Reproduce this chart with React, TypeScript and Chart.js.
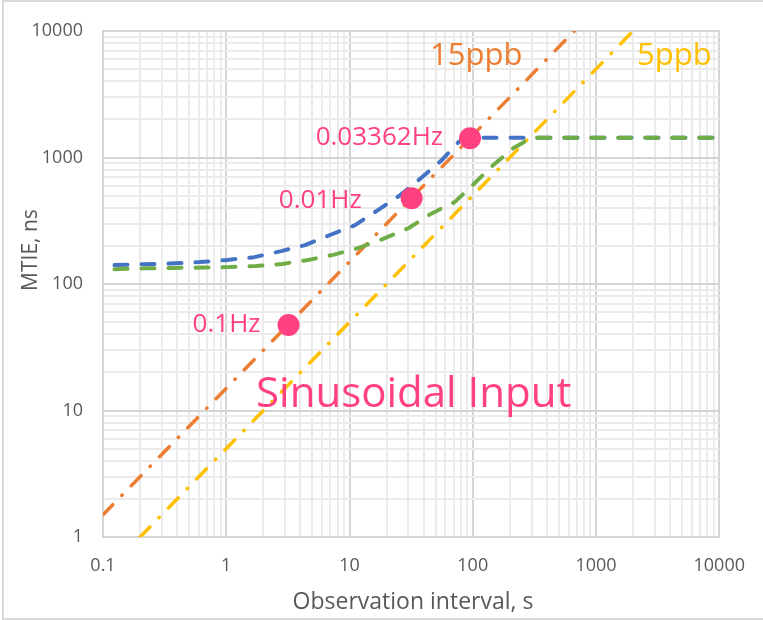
import React, { useEffect, useRef } from 'react';
import { Chart, registerables } from 'chart.js';

Chart.register(...registerables);

// ---- data ----
const X_TICK_LABELS = ['0.1', '1', '10', '100', '1000', '10000'];
const Y_TICK_LABELS = ['1', '10', '100', '1000', '10000'];

const BLUE_X = [0.124, 0.198, 0.346, 0.606, 1.02, 1.69, 2.79, 4.36, 6.96, 11.1, 17.0, 25.2, 37.2, 55.1, 76.9, 96.2, 10000];
const BLUE_Y = [141, 143, 145, 149, 155, 163, 182, 203, 244, 292, 384, 496, 676, 938, 1327, 1430, 1430];

const GREEN_X = [0.124, 0.218, 0.38, 0.665, 1.06, 1.75, 2.85, 4.62, 7.36, 11.9, 18.7, 30.3, 45.6, 71.3, 102, 147, 214, 299, 10000];
const GREEN_Y = [131, 133, 134, 135, 136, 139, 144, 155, 170, 193, 227, 277, 358, 444, 618, 873, 1189, 1430, 1430];

const ORANGE_X = [0.1, 667];
const ORANGE_Y = [1.5, 10000];

const YELLOW_X = [0.2, 2000];
const YELLOW_Y = [1, 10000];

const MARKER_X = [3.2, 31.9, 95];
const MARKER_Y = [47.4, 476, 1420];
const MARKER_LABELS = ['0.1Hz', '0.01Hz', '0.03362Hz'];

// ---- styles ----
const FONT = '"Open Sans", "Noto Sans", sans-serif';
const GRAY_TEXT = '#595959';
const MAJOR_GRID = '#d4d4d4';
const MINOR_GRID = '#ebebeb';
const BLUE = '#4472C4';
const GREEN = '#70AD47';
const ORANGE = '#ED7D31';
const YELLOW = '#FFC000';
const PINK = '#FF4081';

const LABEL_OFFSETS = [
  { dx: -28, dy: 7 },
  { dx: -50, dy: 10 },
  { dx: -27, dy: 7 },
];

const pts = (xs: number[], ys: number[]) => xs.map((x, i) => ({ x, y: ys[i] }));

const isMajor = (v: number) => {
  const l = Math.log10(v);
  return Math.abs(l - Math.round(l)) < 1e-9;
};

const buildTicks = (labels: string[]) => {
  const out: { value: number; major: boolean }[] = [];
  const decades = labels.map((s) => parseFloat(s));
  for (let i = 0; i < decades.length - 1; i++) {
    for (let m = 1; m <= 9; m++) {
      out.push({ value: Number((m * decades[i]).toPrecision(6)), major: m === 1 });
    }
  }
  out.push({ value: decades[decades.length - 1], major: true });
  return out;
};

const labelFor = (labels: string[]) => (v: any) => {
  const n = Number(v);
  if (!isMajor(n)) return '';
  const found = labels.find((s) => Math.abs(parseFloat(s) - n) / n < 1e-6);
  return found ?? '';
};

const textPlugin = {
  id: 'textPlugin',
  afterDraw(chart: any) {
    const { ctx } = chart;
    const xs = chart.scales.x;
    const ys = chart.scales.y;
    ctx.save();
    ctx.textBaseline = 'alphabetic';

    // marker labels
    ctx.fillStyle = PINK;
    ctx.font = `26px ${FONT}`;
    ctx.textAlign = 'right';
    MARKER_X.forEach((mx, i) => {
      const px = xs.getPixelForValue(mx);
      const py = ys.getPixelForValue(MARKER_Y[i]);
      ctx.fillText(MARKER_LABELS[i], px + LABEL_OFFSETS[i].dx, py + LABEL_OFFSETS[i].dy);
    });

    // series labels
    ctx.textAlign = 'left';
    ctx.font = `31px ${FONT}`;
    ctx.fillStyle = ORANGE;
    ctx.fillText('15ppb', 430, 65);
    ctx.fillStyle = YELLOW;
    ctx.fillText('5ppb', 637, 65);

    ctx.font = `42px ${FONT}`;
    ctx.fillStyle = PINK;
    ctx.fillText('Sinusoidal Input', 256, 407);

    // axis titles
    ctx.fillStyle = GRAY_TEXT;
    ctx.font = `23px ${FONT}`;
    ctx.textAlign = 'center';
    ctx.fillText('Observation interval, s', 413, 609);

    ctx.font = `21px ${FONT}`;
    ctx.translate(37, 250);
    ctx.rotate(-Math.PI / 2);
    ctx.fillText('MTIE, ns', 0, 0);
    ctx.restore();
  },
};

const gridColor = (ctx: any) => (ctx.tick && isMajor(ctx.tick.value) ? MAJOR_GRID : MINOR_GRID);

export default function App() {
  const ref = useRef<HTMLCanvasElement>(null);

  useEffect(() => {
    if (!ref.current) return;
    const lineBase = {
      showLine: true,
      pointRadius: 0,
      pointHoverRadius: 0,
      tension: 0,
      borderCapStyle: 'round' as const,
      borderJoinStyle: 'round' as const,
      fill: false,
    };
    const chart = new Chart(ref.current, {
      type: 'scatter',
      data: {
        datasets: [
          {
            ...lineBase,
            label: '15ppb',
            data: pts(ORANGE_X, ORANGE_Y),
            borderColor: ORANGE,
            borderWidth: 3.5,
            borderDash: [14, 13, 0.5, 13],
            order: 5,
          },
          {
            ...lineBase,
            label: '5ppb',
            data: pts(YELLOW_X, YELLOW_Y),
            borderColor: YELLOW,
            borderWidth: 3.5,
            borderDash: [14, 13, 0.5, 13],
            order: 4,
          },
          {
            ...lineBase,
            label: 'blue',
            data: pts(BLUE_X, BLUE_Y),
            borderColor: BLUE,
            borderWidth: 4,
            borderDash: [13, 14],
            order: 3,
          },
          {
            ...lineBase,
            label: 'green',
            data: pts(GREEN_X, GREEN_Y),
            borderColor: GREEN,
            borderWidth: 4,
            borderDash: [13, 14],
            order: 2,
          },
          {
            label: 'markers',
            data: pts(MARKER_X, MARKER_Y),
            showLine: false,
            pointRadius: 11,
            pointHoverRadius: 11,
            pointBackgroundColor: PINK,
            pointBorderWidth: 0,
            backgroundColor: PINK,
            borderColor: PINK,
            order: 1,
          },
        ],
      },
      options: {
        animation: false,
        responsive: false,
        maintainAspectRatio: false,
        events: [],
        layout: { padding: { top: 31, right: 42, left: 0, bottom: 0 } },
        plugins: {
          legend: { display: false },
          tooltip: { enabled: false },
          title: { display: false },
        },
        scales: {
          x: {
            type: 'logarithmic',
            min: 0.1,
            max: 10000,
            afterBuildTicks: (s: any) => {
              s.ticks = buildTicks(X_TICK_LABELS);
            },
            afterFit: (s: any) => {
              s.height = 83;
            },
            grid: { color: gridColor, lineWidth: 2, drawTicks: false },
            border: { color: MAJOR_GRID, width: 2 },
            ticks: {
              autoSkip: false,
              maxRotation: 0,
              minRotation: 0,
              padding: 18,
              color: GRAY_TEXT,
              font: { family: FONT, size: 18 },
              callback: labelFor(X_TICK_LABELS),
            },
          },
          y: {
            type: 'logarithmic',
            min: 1,
            max: 10000,
            afterBuildTicks: (s: any) => {
              s.ticks = buildTicks(Y_TICK_LABELS);
            },
            afterFit: (s: any) => {
              s.width = 103;
            },
            grid: { color: gridColor, lineWidth: 2, drawTicks: false },
            border: { color: MAJOR_GRID, width: 2 },
            ticks: {
              autoSkip: false,
              padding: 20,
              color: GRAY_TEXT,
              font: { family: FONT, size: 18 },
              callback: labelFor(Y_TICK_LABELS),
            },
          },
        },
      },
      plugins: [textPlugin],
    } as any);
    return () => chart.destroy();
  }, []);

  return (
    <div style={{ position: 'fixed', left: 0, top: 0, width: 763, height: 620, background: '#ffffff', overflow: 'hidden' }}>
      <canvas ref={ref} width={763} height={620} style={{ display: 'block', width: 763, height: 620 }} />
      <div
        style={{
          position: 'absolute',
          left: 2,
          top: 0,
          width: 800,
          height: 620,
          boxSizing: 'border-box',
          border: '2px solid #d9d9d9',
          pointerEvents: 'none',
        }}
      />
    </div>
  );
}
